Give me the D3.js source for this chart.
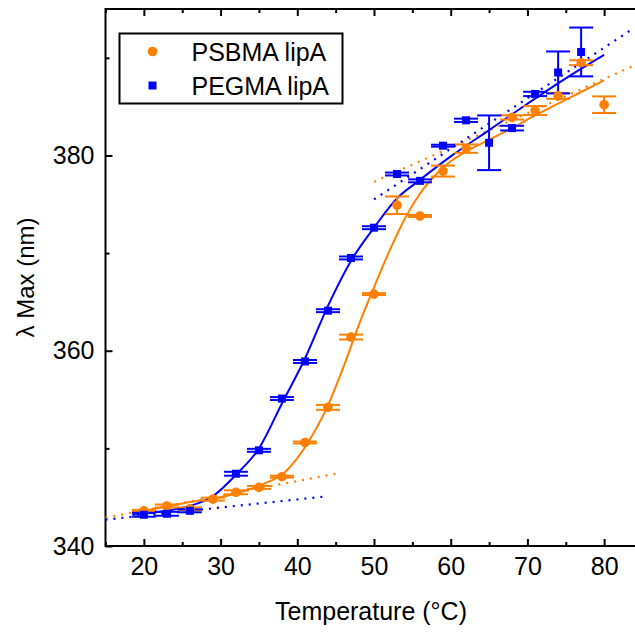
<!DOCTYPE html>
<html>
<head>
<meta charset="utf-8">
<script src="https://cdn.jsdelivr.net/npm/d3@7"></script>
<style>
  body { margin: 0; background: #fff; }
  svg { display: block; font-family: "Liberation Sans", Arial, sans-serif; }
</style>
</head>
<body>
<div id="chart"></div>
<script>
// measured points
var psbmaTemp = [20, 23, 26, 29, 32, 35, 38, 41, 44, 47, 50, 53, 56, 59, 62, 68, 71, 74, 77, 80];
var psbmaLambda = [343.6, 344.1, 343.8, 344.8, 345.5, 346.0, 347.1, 350.6, 354.2, 361.4, 365.8, 374.9, 373.8, 378.4, 380.7, 383.9, 384.6, 386.1, 389.5, 385.2];
var psbmaErr = [0.1, 0.15, 0.15, 0.15, 0.2, 0.15, 0.1, 0.1, 0.25, 0.25, 0.1, 0.9, 0.1, 0.56, 0.43, 0.22, 0.46, 0.3, 0.25, 0.85];

var pegmaTemp = [20, 23, 26, 32, 35, 38, 41, 44, 47, 50, 53, 56, 59, 62, 65, 68, 71, 74, 77];
var pegmaLambda = [343.2, 343.3, 343.6, 347.4, 349.8, 355.1, 358.9, 364.1, 369.5, 372.6, 378.1, 377.4, 381.0, 383.6, 381.3, 382.8, 386.3, 388.5, 390.6];
var pegmaErr = [0.2, 0.2, 0.15, 0.2, 0.15, 0.15, 0.15, 0.15, 0.15, 0.15, 0.15, 0.15, 0.1, 0.17, 2.8, 0.24, 0.22, 2.15, 2.5];

// sigmoid fit curves
var psbmaFitTemp = [18.5, 22, 26, 30, 33, 36, 38, 40, 42, 44, 46, 48, 50, 52, 54, 56, 58, 60, 62, 65, 68, 71, 74, 77, 80];
var psbmaFitLambda = [343.4, 343.9, 344.5, 345.0, 345.6, 346.5, 347.3, 349.0, 351.4, 354.4, 358.3, 362.6, 366.5, 370.2, 373.5, 376.1, 378.0, 379.4, 380.4, 381.6, 382.8, 384.1, 385.3, 386.5, 387.7];
var pegmaFitTemp = [18.5, 22, 26, 29, 32, 35, 38, 41, 44, 47, 50, 53, 56, 60, 65, 70, 75, 80];
var pegmaFitLambda = [343.2, 343.5, 344.1, 345.1, 347.3, 350.0, 354.6, 359.2, 364.6, 369.2, 372.6, 375.6, 377.5, 379.9, 382.6, 385.3, 387.9, 390.3];

// dotted baselines [temp, lambda]
var psbmaLowBase = [[15, 342.9], [45, 347.4]];
var psbmaHighBase = [[50, 377.3], [83.6, 389.1]];
var pegmaLowBase = [[15, 342.7], [44, 345.1]];
var pegmaHighBase = [[50, 375.5], [83.4, 392.8]];

var xMajor = [20, 30, 40, 50, 60, 70, 80];
var xMinor = [15, 25, 35, 45, 55, 65, 75, 85];
var yMajor = [340, 360, 380];
var yMinor = [350, 370, 390];

var orange = "#ff8000";
var blue = "#0000ff";

var width = 635, height = 636;
var x = d3.scaleLinear().domain([15, 85]).range([105.5, 642.5]);
var y = d3.scaleLinear().domain([340, 395]).range([546, 9]);

var svg = d3.select("#chart")
    .append("svg")
        .attr("width", width)
        .attr("height", height);

svg.append("rect").attr("width", width).attr("height", height).attr("fill", "#fff");

function zip(xs, ys, es) {
    return xs.map(function(d, i) { return {t: d, l: ys[i], e: es ? es[i] : 0}; });
}

var psbma = zip(psbmaTemp, psbmaLambda, psbmaErr);
var pegma = zip(pegmaTemp, pegmaLambda, pegmaErr);

// axes
function styleAxis(g) {
    g.select(".domain").remove();
    g.selectAll("line").attr("stroke", "#000").attr("stroke-width", 2);
    g.selectAll("text")
        .attr("font-family", "'Liberation Sans', Arial, sans-serif")
        .attr("font-size", 25)
        .attr("fill", "#000");
}

svg.append("g").attr("transform", "translate(0,546)")
    .call(d3.axisBottom(x).tickValues(xMajor).tickSize(-7).tickPadding(11).tickFormat(d3.format("d")))
    .call(styleAxis);
svg.append("g").attr("transform", "translate(0,546)")
    .call(d3.axisBottom(x).tickValues(xMinor).tickSize(-4).tickFormat(""))
    .call(styleAxis);
svg.append("g").attr("transform", "translate(0,9)")
    .call(d3.axisTop(x).tickValues(xMajor).tickSize(-7).tickFormat(""))
    .call(styleAxis);
svg.append("g").attr("transform", "translate(0,9)")
    .call(d3.axisTop(x).tickValues(xMinor).tickSize(-4).tickFormat(""))
    .call(styleAxis);

svg.append("g").attr("transform", "translate(105.5,0)")
    .call(d3.axisLeft(y).tickValues(yMajor).tickSize(-7).tickPadding(11).tickFormat(d3.format("d")))
    .call(styleAxis);
svg.append("g").attr("transform", "translate(105.5,0)")
    .call(d3.axisLeft(y).tickValues(yMinor).tickSize(-4).tickFormat(""))
    .call(styleAxis);
svg.append("g").attr("transform", "translate(642.5,0)")
    .call(d3.axisRight(y).tickValues(yMajor).tickSize(-7).tickFormat(""))
    .call(styleAxis);
svg.append("g").attr("transform", "translate(642.5,0)")
    .call(d3.axisRight(y).tickValues(yMinor).tickSize(-4).tickFormat(""))
    .call(styleAxis);

// frame
svg.append("rect")
    .attr("x", x(15)).attr("y", y(395))
    .attr("width", x(85) - x(15)).attr("height", y(340) - y(395))
    .attr("fill", "none").attr("stroke", "#000").attr("stroke-width", 2);

// axis titles
svg.append("text")
    .attr("x", (x(15) + x(85)) / 2 - 3)
    .attr("y", 620)
    .attr("text-anchor", "middle")
    .attr("font-size", 25)
    .text("Temperature (°C)");

svg.append("text")
    .attr("transform", "translate(34," + ((y(340) + y(395)) / 2) + ") rotate(-90)")
    .attr("text-anchor", "middle")
    .attr("font-size", 24)
    .text("λ Max (nm)");

var plot = svg.append("g");

// dotted baselines
var baseLine = d3.line().x(function(d) { return x(d[0]); }).y(function(d) { return y(d[1]); });
[[psbmaLowBase, orange], [psbmaHighBase, orange], [pegmaLowBase, blue], [pegmaHighBase, blue]]
    .forEach(function(b) {
        plot.append("path")
            .attr("d", baseLine(b[0]))
            .attr("fill", "none")
            .attr("stroke", b[1])
            .attr("stroke-width", 2.2)
            .attr("stroke-dasharray", "2,6");
    });

// fit curves
var fitLine = d3.line()
    .x(function(d) { return x(d.t); })
    .y(function(d) { return y(d.l); })
    .curve(d3.curveMonotoneX);

plot.append("path")
    .datum(zip(psbmaFitTemp, psbmaFitLambda))
    .attr("d", fitLine)
    .attr("fill", "none").attr("stroke", orange).attr("stroke-width", 2);
plot.append("path")
    .datum(zip(pegmaFitTemp, pegmaFitLambda))
    .attr("d", fitLine)
    .attr("fill", "none").attr("stroke", blue).attr("stroke-width", 2);

// error bars
function errorBars(data, color) {
    var g = plot.append("g").attr("stroke", color).attr("stroke-width", 2);
    var capW = 12;
    data.forEach(function(d) {
        var cx = x(d.t), top = y(d.l + d.e), bot = y(d.l - d.e);
        g.append("line").attr("x1", cx).attr("x2", cx).attr("y1", top).attr("y2", bot);
        g.append("line").attr("x1", cx - capW).attr("x2", cx + capW).attr("y1", top).attr("y2", top);
        g.append("line").attr("x1", cx - capW).attr("x2", cx + capW).attr("y1", bot).attr("y2", bot);
    });
}
errorBars(psbma, orange);
errorBars(pegma, blue);

// markers
plot.append("g").selectAll("circle")
    .data(psbma)
    .enter()
    .append("circle")
        .attr("cx", function(d) { return x(d.t); })
        .attr("cy", function(d) { return y(d.l); })
        .attr("r", 4.8)
        .attr("fill", orange);

plot.append("g").selectAll("rect")
    .data(pegma)
    .enter()
    .append("rect")
        .attr("x", function(d) { return x(d.t) - 4; })
        .attr("y", function(d) { return y(d.l) - 4; })
        .attr("width", 8)
        .attr("height", 8)
        .attr("fill", blue);

// legend
var legend = svg.append("g").attr("transform", "translate(119.5,33.5)");
legend.append("rect")
    .attr("width", 223).attr("height", 70)
    .attr("fill", "#fff").attr("stroke", "#000").attr("stroke-width", 2);
legend.append("circle").attr("cx", 33).attr("cy", 18).attr("r", 4.8).attr("fill", orange);
legend.append("rect").attr("x", 29).attr("y", 48).attr("width", 8).attr("height", 8).attr("fill", blue);
legend.append("text").attr("x", 72).attr("y", 27).attr("font-size", 25).text("PSBMA lipA");
legend.append("text").attr("x", 72).attr("y", 61).attr("font-size", 25).text("PEGMA lipA");
</script>
</body>
</html>
